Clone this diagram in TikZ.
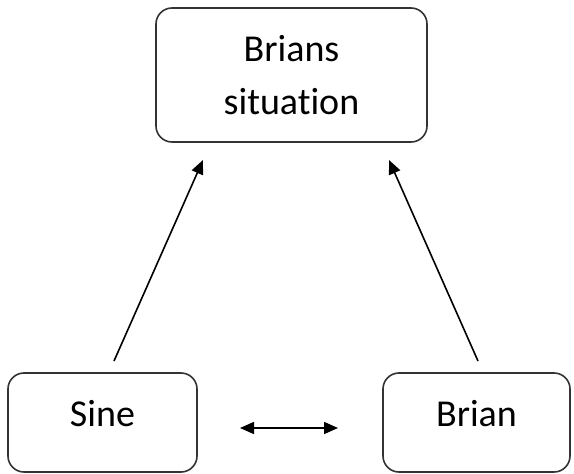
\documentclass[tikz,border=0pt]{standalone}
\usepackage{fontspec}
\setmainfont[Ligatures=NoCommon]{Carlito}
\usetikzlibrary{arrows.meta}

\begin{document}
\begin{tikzpicture}[x=1pt, y=-1pt,
	box/.style= {draw=black!80, line width=1.6pt, rounded corners=16pt, font=\fontsize{38}{53}\selectfont, align=center, inner sep=0pt},
	arr/.style= {line width=1.6pt, -{Triangle[length=14pt,width=12pt]}}]
		\useasboundingbox (0,0) rectangle (574,474);

		\node[box, minimum width=271pt, minimum height=134pt] (sit) at (291.5,75) {Brians\\situation};
		\node[box, minimum width=189pt, minimum height=99pt, text height=26pt, text depth=18pt] (sine) at (102.5,422.5) {Sine};
		\node[box, minimum width=187pt, minimum height=99pt, text height=26pt, text depth=18pt] (brian) at (476.5,422.5) {Brian};

		\coordinate (s0) at (114,361);
		\coordinate (s1) at (203,160);
		\coordinate (b0) at (478,361);
		\coordinate (b1) at (389,160);
		\coordinate (m0) at (240,428);
		\coordinate (m1) at (338,428);

		\draw[arr] (s0) -- (s1);
		\draw[arr] (b0) -- (b1);
		\draw[arr, {Triangle[length=14pt,width=12pt]}-{Triangle[length=14pt,width=12pt]}] (m0) -- (m1);
\end{tikzpicture}
\end{document}
